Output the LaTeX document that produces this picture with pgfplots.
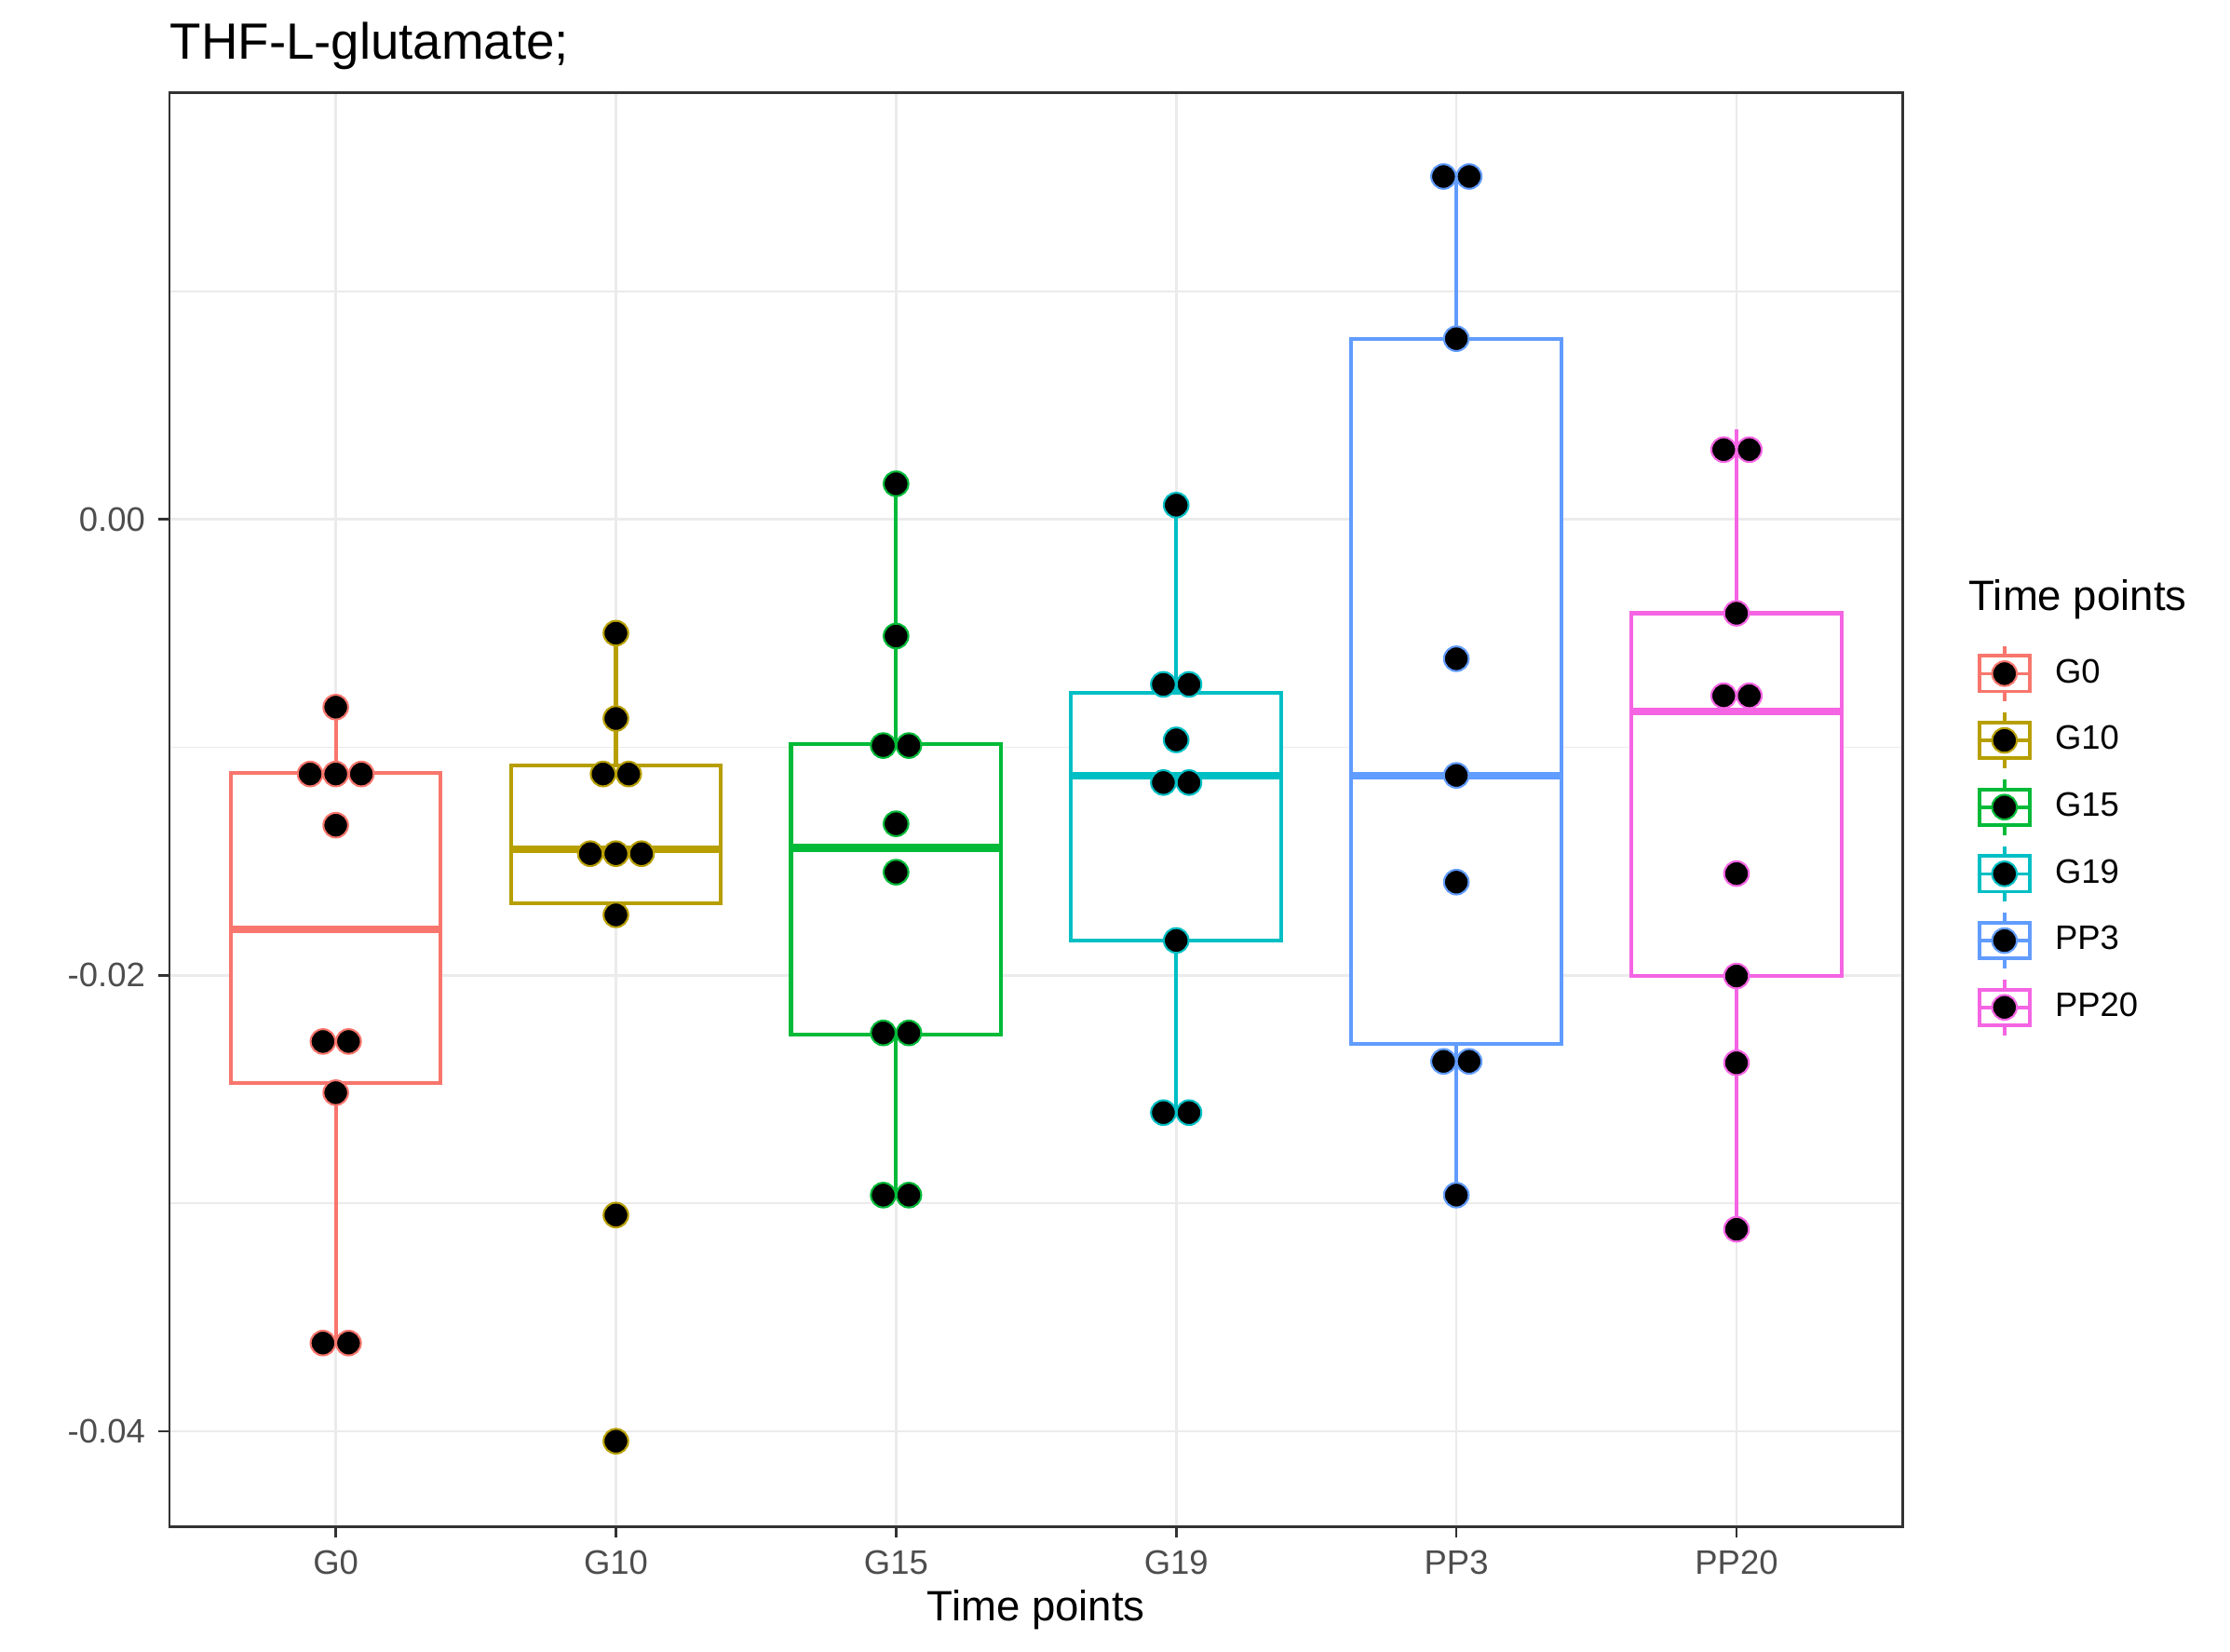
\documentclass[border=0pt]{standalone}
\usepackage{pgfplots}
\pgfplotsset{compat=1.18}
\usepgfplotslibrary{statistics}
\usepackage{fontspec}
\setmainfont{Liberation Sans}
\definecolor{cG0}{HTML}{F8766D}
\definecolor{cG10}{HTML}{B79F00}
\definecolor{cG15}{HTML}{00BA38}
\definecolor{cG19}{HTML}{00BFC4}
\definecolor{cPP3}{HTML}{619CFF}
\definecolor{cPP20}{HTML}{F564E3}
\definecolor{gridc}{HTML}{EBEBEB}
\definecolor{tickc}{HTML}{4D4D4D}
\definecolor{borderc}{HTML}{333333}
\pgfplotsset{
  legbox/.style={legend image code/.code={
     \path[draw=none, fill=none] (0pt,-8.65pt) rectangle (20pt,8.65pt);
     \draw[draw=#1, line width=0.9pt, fill=white] (0.4pt,-4.6pt) rectangle (13.4pt,4.6pt);
     \draw[draw=#1, line width=0.9pt] (6.9pt,4.6pt) -- (6.9pt,7.2pt) (6.9pt,-4.6pt)--(6.9pt,-7.2pt) (0.4pt,0pt)--(13.4pt,0pt);
     \filldraw[fill=black, draw=#1, line width=0.5pt] (6.9pt,0pt) circle (3.2pt);
  }},
  bx/.style={forget plot, boxplot/draw direction=y, line width=1pt, draw=#1, solid, fill=white,
     boxplot/every median/.style={line width=2pt}},
  dots/.style={forget plot, only marks, mark=*, mark size=3.2pt, mark options={fill=black, draw=#1, line width=0.5pt, solid}},
}
\begin{document}
\begin{tikzpicture}
\path[use as bounding box] (-43.9pt,-32.4pt) rectangle (534.2pt,395.7pt);
\begin{axis}[
  at={(0pt,0pt)}, anchor=south west,
  scale only axis, width=449.4pt, height=371.7pt,
  xmin=-0.594, xmax=5.594, ymin=-0.044181, ymax=0.018721,
  xtick={0,1,2,3,4,5}, xticklabels={G0,G10,G15,G19,PP3,PP20},
  ytick={-0.04,-0.02,0}, yticklabels={-0.04,-0.02,0.00},
  scaled y ticks=false,
  minor ytick={-0.03,-0.01,0.01},
  xmajorgrids, ymajorgrids, yminorgrids,
  major grid style={draw=gridc, line width=0.65pt},
  minor grid style={draw=gridc, line width=0.33pt},
  tick pos=left, tick align=outside,
  major tick length=2.75pt, minor tick length=0pt,
  tick style={draw=borderc, line width=0.65pt},
  axis line style={draw=borderc, line width=0.65pt},
  ticklabel style={font=\fontsize{8.8}{10}\selectfont, text=tickc},
  xlabel={Time points},
  xlabel style={font=\fontsize{11}{13}\selectfont, yshift=3pt},
  title={THF-L-glutamate;},
  title style={at={(0,1)}, anchor=base west, yshift=2.6pt, inner sep=0pt, font=\fontsize{13.2}{15}\selectfont},
  legend style={draw=none, fill=none, at={(1.0427,0.6186)}, anchor=north west, inner sep=0pt,
     row sep=0pt, column sep=0pt, nodes={draw=none, fill=none, inner sep=0pt}, font=\fontsize{8.8}{10}\selectfont},
  legend cell align=left,
  clip=false,
]
\addplot[bx=cG0, boxplot prepared={draw position=0, box extend=0.75, whisker extend=0,
  lower whisker=-0.036131, lower quartile=-0.024711, median=-0.017972, upper quartile=-0.011108, upper whisker=-0.008237}] coordinates {};
\addplot[bx=cG10, boxplot prepared={draw position=1, box extend=0.75, whisker extend=0,
  lower whisker=-0.017348, lower quartile=-0.016849, median=-0.014477, upper quartile=-0.010796, upper whisker=-0.004992}] coordinates {};
\addplot[bx=cG15, boxplot prepared={draw position=2, box extend=0.75, whisker extend=0,
  lower whisker=-0.029641, lower quartile=-0.022590, median=-0.014415, upper quartile=-0.009860, upper whisker=0.001560}] coordinates {};
\addplot[bx=cG19, boxplot prepared={draw position=3, box extend=0.75, whisker extend=0,
  lower whisker=-0.026022, lower quartile=-0.018471, median=-0.011232, upper quartile=-0.007613, upper whisker=0.000624}] coordinates {};
\addplot[bx=cPP3, boxplot prepared={draw position=4, box extend=0.75, whisker extend=0,
  lower whisker=-0.029641, lower quartile=-0.023026, median=-0.011232, upper quartile=0.007925, upper whisker=0.015039}] coordinates {};
\addplot[bx=cPP20, boxplot prepared={draw position=5, box extend=0.75, whisker extend=0,
  lower whisker=-0.031139, lower quartile=-0.020031, median=-0.008424, upper quartile=-0.004119, upper whisker=0.00394}] coordinates {};
% dots
\addplot[dots=cG0] coordinates {(0,-0.008237) (-0.0914,-0.011170) (0,-0.011170) (0.0914,-0.011170) (0,-0.013416) (-0.0457,-0.022902) (0.0457,-0.022902) (0,-0.025148) (-0.0457,-0.036131) (0.0457,-0.036131)};
\addplot[dots=cG10] coordinates {(1,-0.004992) (1,-0.008736) (0.9543,-0.011170) (1.0457,-0.011170) (0.9086,-0.014664) (1,-0.014664) (1.0914,-0.014664) (1,-0.017348) (1,-0.030515) (1,-0.040436)};
\addplot[dots=cG15] coordinates {(2,0.001560) (2,-0.005117) (1.9543,-0.009922) (2.0457,-0.009922) (2,-0.013354) (2,-0.015476) (1.9543,-0.022527) (2.0457,-0.022527) (1.9543,-0.029641) (2.0457,-0.029641)};
\addplot[dots=cG19] coordinates {(3,0.000624) (2.9543,-0.007239) (3.0457,-0.007239) (3,-0.009672) (2.9543,-0.011544) (3.0457,-0.011544) (3,-0.018471) (2.9543,-0.026022) (3.0457,-0.026022)};
\addplot[dots=cPP3] coordinates {(3.9543,0.015039) (4.0457,0.015039) (4,0.007925) (4,-0.006115) (4,-0.011232) (4,-0.015913) (3.9543,-0.023775) (4.0457,-0.023775) (4,-0.029641)};
\addplot[dots=cPP20] coordinates {(4.9543,0.003058) (5.0457,0.003058) (5,-0.004119) (4.9543,-0.007738) (5.0457,-0.007738) (5,-0.015538) (5,-0.020031) (5,-0.023838) (5,-0.031139)};
\addlegendimage{legbox=cG0}\addlegendentry{G0}
\addlegendimage{legbox=cG10}\addlegendentry{G10}
\addlegendimage{legbox=cG15}\addlegendentry{G15}
\addlegendimage{legbox=cG19}\addlegendentry{G19}
\addlegendimage{legbox=cPP3}\addlegendentry{PP3}
\addlegendimage{legbox=cPP20}\addlegendentry{PP20}
\node[anchor=west, inner sep=0pt, font=\fontsize{11}{13}\selectfont] at (rel axis cs:1.0377,0.6468) {Time points};
\end{axis}
\end{tikzpicture}
\end{document}
